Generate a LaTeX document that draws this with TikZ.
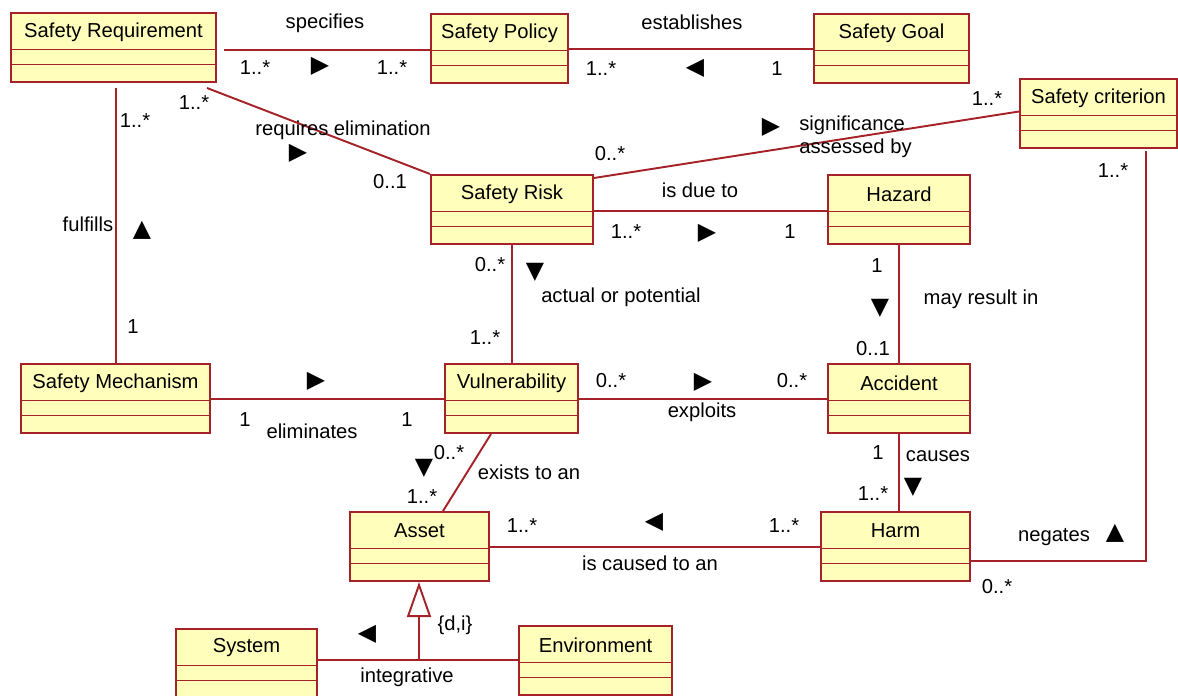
\documentclass[tikz,border=0pt]{standalone}
\usepackage{fontspec}
\setmainfont{Liberation Sans}
\newfontfamily\arrowfont{DejaVu Sans}
\usetikzlibrary{arrows.meta,positioning}

\definecolor{umlred}{RGB}{165,35,40}
\definecolor{umlyellow}{RGB}{255,255,187}

\tikzset{
  umlbox/.style={draw=umlred, line width=1.15pt, fill=umlyellow, minimum height=1.38cm, inner sep=0pt},
  umlline/.style={draw=umlred, line width=1.1pt},
  assoc/.style={draw=umlred, line width=1.1pt},
  lbl/.style={inner sep=0pt, font=\fontsize{11.5}{13}\selectfont},
  dir/.style={inner sep=0pt, font=\arrowfont\fontsize{13.5}{14}\selectfont},
}

% class box: name, left, top, right, title
\newcommand{\umlclass}[5]{%
  \pgfmathsetmacro{\clsw}{(#4-#2)*0.02}
  \node[umlbox, minimum width=\clsw cm, anchor=north west] (#1) at (#2,#3) {};
  \draw[umlline] ([yshift=-0.75cm]#1.north west) -- ([yshift=-0.75cm]#1.north east);
  \draw[umlline] ([yshift=-1.05cm]#1.north west) -- ([yshift=-1.05cm]#1.north east);
  \node[lbl] (#1-title) at ([yshift=-0.40cm]#1.north) {#5};
}

\begin{document}
\begin{tikzpicture}[x=0.02cm, y=-0.02cm]

\fill[white] (0,0) rectangle (1178,696);
\useasboundingbox (0,0) rectangle (1178,696);

% classes
\umlclass{sreq}{10}{12}{215}{Safety Requirement}
\umlclass{spol}{430}{13}{567}{Safety Policy}
\umlclass{sgoal}{813}{13}{968}{Safety Goal}
\umlclass{scrit}{1019}{78}{1176}{Safety criterion}
\umlclass{srisk}{430}{174}{592}{Safety Risk}
\umlclass{hazard}{827}{174}{969}{Hazard}
\umlclass{smech}{20}{363}{209}{Safety Mechanism}
\umlclass{vuln}{444}{363}{577}{Vulnerability}
\umlclass{accident}{827}{363}{969}{Accident}
\umlclass{asset}{349}{511}{488}{Asset}
\umlclass{harm}{820}{511}{969}{Harm}
\umlclass{system}{175}{628}{316}{System}
\umlclass{env}{518}{625}{671}{Environment}

% associations
\draw[assoc] ([xshift=0.14cm,yshift=-0.03cm]sreq.east |- spol.west) -- ([yshift=-0.03cm]spol.west);
\draw[assoc] ([yshift=-0.01cm]spol.east) -- ([yshift=-0.01cm]sgoal.west);
\draw[assoc] ([xshift=-0.2cm,yshift=-0.1cm]sreq.south east) -- (srisk.north west);
\draw[assoc] ([xshift=0.05cm,yshift=-0.1cm]sreq.south) -- ([xshift=0.05cm]sreq.south |- smech.north);
\draw[assoc] ([yshift=-0.08cm]srisk.north east) -- ([yshift=0.04cm]scrit.west);
\draw[assoc] ([yshift=-0.03cm]srisk.east) -- ([yshift=-0.03cm]hazard.west);
\draw[assoc] (srisk.south) -- (srisk.south |- vuln.north);
\draw[assoc] (hazard.south) -- (accident.north);
\draw[assoc] ([yshift=-0.01cm]smech.east) -- ([yshift=-0.01cm]vuln.west);
\draw[assoc] ([yshift=-0.01cm]vuln.east) -- ([yshift=-0.01cm]accident.west);
\draw[assoc] ([xshift=-0.41cm]vuln.south) -- ([xshift=0.47cm]asset.north);
\draw[assoc] (accident.south) -- (accident.south |- harm.north);
\draw[assoc] ([yshift=-0.01cm]asset.east) -- ([yshift=-0.01cm]harm.west);
\coordinate (negbend) at (1146,561);
\draw[assoc] (harm.east |- negbend) -- (negbend) -- ([yshift=-0.04cm]negbend |- scrit.south);

% generalization
\draw[assoc] ([yshift=0.01cm]system.east |- env.west) -- ([yshift=0.01cm]env.west);
\draw[assoc, -{Triangle[open, length=0.7cm, width=0.48cm, fill=white]}] ([xshift=-0.01cm,yshift=0.01cm]asset.south |- env.west) -- ([xshift=-0.01cm]asset.south);

% association labels
\node[lbl] (specifies) at (325,23) {specifies};
\node[lbl] (m1) at (255,68) {1..*};
\node[dir] (d1) at (320,66) {▶};
\node[lbl] (m2) at (392,68) {1..*};

\node[lbl] (establishes) at (692,22) {establishes};
\node[lbl] (m3) at (601,69) {1..*};
\node[dir] (d2) at (695,68) {◀};
\node[lbl] (m4) at (777,69) {1};

\node[lbl] (m5) at (194,103) {1..*};
\node[lbl] (requires) at (343,130) {requires elimination};
\node[dir] (d3) at (298,153) {▶};
\node[lbl] (m6) at (390,182) {0..1};

\node[lbl] (m7) at (135,121) {1..*};
\node[lbl] (fulfills) at (88,224) {fulfills};
\node[dir] (d4) at (142,230) {▲};
\node[lbl] (m8) at (133,327) {1};

\node[lbl] (m9) at (610,154) {0..*};
\node[dir] (d5) at (771,127) {▶};
\node[lbl, anchor=west, align=left] (significance) at (799,137) {significance\\assessed by};
\node[lbl] (m10) at (987,99) {1..*};

\node[lbl] (isdue) at (700,190) {is due to};
\node[lbl] (m11) at (626,232) {1..*};
\node[dir] (d6) at (707,233) {▶};
\node[lbl] (m12) at (790,232) {1};

\node[lbl] (m13) at (490,265) {0..*};
\node[dir] (d7) at (535,272) {▼};
\node[lbl] (actual) at (621,297) {actual or potential};
\node[lbl] (m14) at (485,338) {1..*};

\node[lbl] (m15) at (877,266) {1};
\node[dir] (d8) at (880,308) {▼};
\node[lbl] (mayresult) at (981,299) {may result in};
\node[lbl] (m16) at (873,349) {0..1};

\node[dir] (d9) at (316,381) {▶};
\node[lbl] (m17) at (245,420) {1};
\node[lbl] (eliminates) at (312,431) {eliminates};
\node[lbl] (m18) at (407,420) {1};

\node[lbl] (m19) at (611,381) {0..*};
\node[dir] (d10) at (703,382) {▶};
\node[lbl] (m20) at (792,381) {0..*};
\node[lbl] (exploits) at (702,412) {exploits};

\node[dir] (d11) at (424,468) {▼};
\node[lbl] (m21) at (449,453) {0..*};
\node[lbl] (existsto) at (529,472) {exists to an};
\node[lbl] (m22) at (422,497) {1..*};

\node[lbl] (m23) at (878,453) {1};
\node[lbl] (causes) at (938,456) {causes};
\node[dir] (d12) at (913,487) {▼};
\node[lbl] (m24) at (873,494) {1..*};

\node[lbl] (m25) at (522,526) {1..*};
\node[dir] (d13) at (654,522) {◀};
\node[lbl] (m26) at (784,526) {1..*};
\node[lbl] (causedto) at (650,563) {is caused to an};

\node[lbl] (negates) at (1054,537) {negates};
\node[dir] (d14) at (1115,533) {▲};
\node[lbl] (m27) at (997,587) {0..*};
\node[lbl] (m28) at (1113,171) {1..*};

\node[lbl] (disjoint) at (455,625) {\{d,i\}};
\node[dir] (d15) at (367,634) {◀};
\node[lbl] (integrative) at (407,677) {integrative};

\end{tikzpicture}
\end{document}
